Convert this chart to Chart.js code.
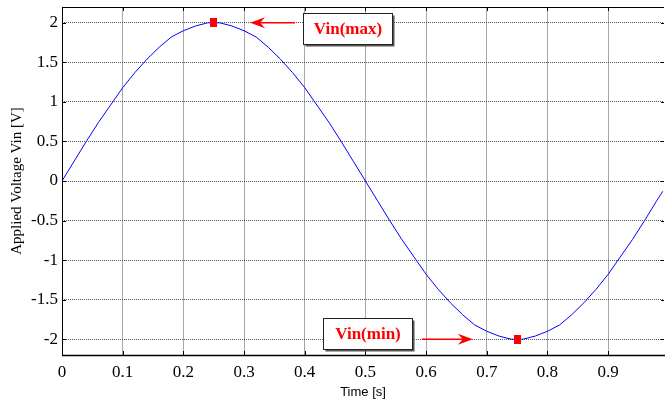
<!DOCTYPE html>
<html><head><meta charset="utf-8">
<script src="https://cdn.jsdelivr.net/npm/chart.js@4/dist/chart.umd.min.js"></script>
<style>html,body{margin:0;padding:0;background:#fff;}#wrap{width:665px;height:402px;position:relative;}</style>
</head><body><div id="wrap"><canvas id="c" width="665" height="402"></canvas></div>
<script>
// ---- data ----
const timeS = [0,0.02,0.04,0.06,0.08,0.10,0.12,0.14,0.16,0.18,0.20,0.22,0.24,0.26,0.28,0.30,0.32,0.34,0.36,0.38,0.40,0.42,0.44,0.46,0.48,0.50,0.52,0.54,0.56,0.58,0.60,0.62,0.64,0.66,0.68,0.70,0.72,0.74,0.76,0.78,0.80,0.82,0.84,0.86,0.88,0.90,0.92,0.94,0.96,0.98,0.99];
const vin = [0,0.25,0.50,0.74,0.96,1.18,1.37,1.54,1.69,1.82,1.90,1.96,2.00,2.00,1.96,1.90,1.82,1.69,1.54,1.37,1.18,0.96,0.74,0.50,0.25,0,-0.25,-0.50,-0.74,-0.96,-1.18,-1.37,-1.54,-1.69,-1.82,-1.90,-1.96,-2.00,-2.00,-1.96,-1.90,-1.82,-1.69,-1.54,-1.37,-1.18,-0.96,-0.74,-0.50,-0.25,-0.13];
const peakTimes = [0.25, 0.75];
const peakValues = [2, -2];
const peakLabels = ['Vin(max)', 'Vin(min)'];
const xTicks = [0,0.1,0.2,0.3,0.4,0.5,0.6,0.7,0.8,0.9];
const yTicks = [-2,-1.5,-1,-0.5,0,0.5,1,1.5,2];
const xTitle = 'Time [s]';
const yTitle = 'Applied Voltage Vin [V]';

// annotation anchors in data coordinates: box [x0,yTop,x1,yBottom], arrow [fromX,fromY,toX,toY]
const annoBoxes = [[0.397,2.13,0.544,1.735],[0.43,-1.726,0.576,-2.118]];
const annoArrows = [[0.384,2,0.31,2],[0.593,-2,0.677,-2]];

const marker = document.createElement('canvas');
marker.width = 7; marker.height = 9;
(function(){const m=marker.getContext('2d');m.fillStyle='#ff0000';m.fillRect(0,0,7,9);})();

const fmt = v => String(Math.round(v*10)/10);

const framePlugin = {
  id:'frame',
  afterDatasetsDraw(chart){
    const ctx = chart.ctx, a = chart.chartArea, xs = chart.scales.x, ys = chart.scales.y;
    ctx.save();
    ctx.strokeStyle = '#000'; ctx.lineWidth = 1;
    ctx.beginPath();
    ctx.moveTo(a.left+0.5, a.bottom+0.5); ctx.lineTo(a.left+0.5, a.top+0.5); ctx.lineTo(a.right, a.top+0.5);
    ctx.stroke();
    ctx.lineWidth = 1.5;
    ctx.beginPath();
    ctx.moveTo(a.left, a.bottom+0.5); ctx.lineTo(a.right+1, a.bottom+0.5);
    ctx.stroke();
    ctx.lineWidth = 1;
    ctx.beginPath();
    xTicks.forEach(v=>{const px=Math.round(xs.getPixelForValue(v))+0.5;
      ctx.moveTo(px,a.top);ctx.lineTo(px,a.top+4);ctx.moveTo(px,a.bottom);ctx.lineTo(px,a.bottom-4);});
    yTicks.forEach(v=>{const py=Math.round(ys.getPixelForValue(v))+0.5;
      ctx.moveTo(a.left,py);ctx.lineTo(a.left+4,py);ctx.moveTo(a.right,py);ctx.lineTo(a.right-3,py);});
    ctx.stroke();
    // annotations
    annoBoxes.forEach((b,i)=>{
      const x0=Math.round(xs.getPixelForValue(b[0]))+0.5, y0=Math.round(ys.getPixelForValue(b[1]))+0.5;
      const x1=Math.round(xs.getPixelForValue(b[2]))+0.5, y1=Math.round(ys.getPixelForValue(b[3]))+0.5;
      ctx.fillStyle='#555';
      ctx.fillRect(x0+2,y0+2,x1-x0,y1-y0);
      ctx.fillStyle='#fff';
      ctx.fillRect(x0,y0,x1-x0,y1-y0);
      ctx.strokeStyle='#222'; ctx.lineWidth=1;
      ctx.strokeRect(x0,y0,x1-x0,y1-y0);
      ctx.fillStyle='#ff0000';
      ctx.font='bold 17px "Liberation Serif", "Times New Roman", serif';
      ctx.textAlign='center'; ctx.textBaseline='middle';
      ctx.fillText(peakLabels[i],(x0+x1)/2,(y0+y1)/2+1);
      const ar=annoArrows[i];
      const fx=xs.getPixelForValue(ar[0]), fy=ys.getPixelForValue(ar[1]);
      const tx=xs.getPixelForValue(ar[2]), ty=ys.getPixelForValue(ar[3]);
      const dir=Math.sign(tx-fx);
      ctx.strokeStyle='#ff0000'; ctx.lineWidth=1.5;
      ctx.beginPath(); ctx.moveTo(fx,fy); ctx.lineTo(tx-dir*8,ty); ctx.stroke();
      ctx.fillStyle='#ff0000';
      ctx.beginPath(); ctx.moveTo(tx,ty); ctx.lineTo(tx-dir*15,ty-5.5); ctx.lineTo(tx-dir*10,ty); ctx.lineTo(tx-dir*15,ty+5.5); ctx.closePath(); ctx.fill();
    });
    ctx.restore();
  }
};

new Chart(document.getElementById('c'), {
  type:'scatter',
  data:{datasets:[
    {data:timeS.map((t,i)=>({x:t,y:vin[i]})), showLine:true, borderColor:'#0000ff', borderWidth:1, pointRadius:0, tension:0, order:2},
    {data:peakTimes.map((t,i)=>({x:t,y:peakValues[i]})), pointStyle:marker, pointRadius:5, showLine:false, order:1}
  ]},
  options:{
    responsive:false, animation:false, devicePixelRatio:1,
    layout:{autoPadding:false, padding:{top:7,right:1,left:0,bottom:0}},
    plugins:{legend:{display:false},tooltip:{enabled:false}},
    scales:{
      x:{type:'linear', min:0, max:0.992,
        afterBuildTicks:s=>{s.ticks=xTicks.map(v=>({value:v}));},
        afterFit:s=>{s.height=47; s.paddingLeft=0; s.paddingRight=0;},
        grid:{color:'#a8a8a8', lineWidth:1, drawTicks:false},
        border:{display:false},
        ticks:{padding:7, color:'#000', font:{family:'"Liberation Serif", "Times New Roman", serif', size:17}, callback:v=>fmt(v), maxRotation:0},
        title:{display:true, text:xTitle, color:'#000', font:{family:'"Liberation Sans", Arial, sans-serif', size:13}, padding:{top:0,bottom:2}}
      },
      y:{type:'linear', min:-2.2, max:2.2,
        afterBuildTicks:s=>{s.ticks=yTicks.map(v=>({value:v}));},
        afterFit:s=>{s.width=62; s.paddingTop=0; s.paddingBottom=0;},
        grid:{color:'#555', lineWidth:1, drawTicks:false},
        border:{display:false, dash:[1,1]},
        ticks:{padding:4, color:'#000', font:{family:'"Liberation Serif", "Times New Roman", serif', size:17}, callback:v=>fmt(v)},
        title:{display:true, text:yTitle, color:'#000', font:{family:'"Liberation Serif", "Times New Roman", serif', size:15}, padding:{top:8,bottom:0}}
      }
    }
  },
  plugins:[framePlugin]
});
</script></body></html>
